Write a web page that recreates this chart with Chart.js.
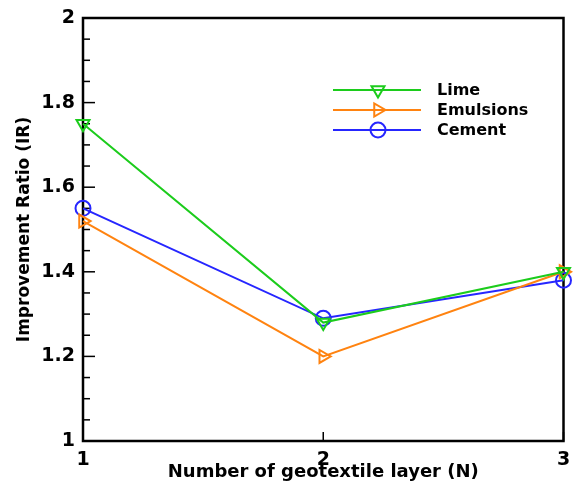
<!DOCTYPE html>
<html>
<head>
<meta charset="utf-8">
<script src="https://cdn.jsdelivr.net/npm/chart.js@4.4.1/dist/chart.umd.min.js"></script>
<style>
  html, body { margin: 0; padding: 0; background: #fff; }
  canvas { display: block; }
</style>
</head>
<body>
<canvas id="myChart" width="573" height="484"></canvas>
<script>
// geotextile layers on x, improvement ratio per additive
var camadas = [1, 2, 3];
var lime = [1.75, 1.28, 1.40];
var emulsions = [1.52, 1.20, 1.40];
var cement = [1.55, 1.29, 1.38];
var xTickLabels = ['1', '2', '3'];
var yTickLabels = ['1', '1.2', '1.4', '1.6', '1.8', '2'];

var verde = '#1ccc1c';
var laranja = '#ff8310';
var azul = '#2626ff';

Chart.defaults.font.family = 'DejaVu Sans';
Chart.defaults.font.weight = 'bold';
Chart.defaults.color = '#000';

function pontos(valores) {
  var lista = [];
  for (var i = 0; i < camadas.length; i++) {
    lista.push({ x: camadas[i], y: valores[i] });
  }
  return lista;
}

function serie(nome, valores, cor, estilo, rotacao) {
  return {
    label: nome,
    data: pontos(valores),
    borderColor: cor,
    borderWidth: 2,
    backgroundColor: cor,
    pointStyle: estilo,
    rotation: rotacao,
    pointRadius: 7.5,
    pointBorderWidth: 2,
    pointBorderColor: cor,
    pointBackgroundColor: 'rgba(0,0,0,0)',
    tension: 0,
    clip: false
  };
}

// moldura e ticks para dentro
const molduraPlugin = {
  id: 'moldura',
  beforeDatasetsDraw(chart) {
    const ctx = chart.ctx;
    const area = chart.chartArea;
    const y = chart.scales.y;
    const x = chart.scales.x;
    ctx.save();
    ctx.strokeStyle = '#000';
    ctx.lineWidth = 1.5;
    y.ticks.forEach(function (t) {
      const py = y.getPixelForValue(t.value);
      const tam = t.label !== '' ? 12 : 7;
      ctx.beginPath();
      ctx.moveTo(area.left, py);
      ctx.lineTo(area.left + tam, py);
      ctx.stroke();
    });
    x.ticks.forEach(function (t) {
      const px = x.getPixelForValue(t.value);
      ctx.beginPath();
      ctx.moveTo(px, area.bottom);
      ctx.lineTo(px, area.bottom - 9);
      ctx.stroke();
    });
    ctx.lineWidth = 2.5;
    ctx.strokeRect(area.left, area.top, area.right - area.left, area.bottom - area.top);
    ctx.restore();
  }
};

const legendaPlugin = {
  id: 'legenda',
  afterDatasetsDraw(chart) {
    const ctx = chart.ctx;
    const area = chart.chartArea;
    const x0 = area.left + 250;
    const y0 = area.top + 72;
    ctx.save();
    chart.data.datasets.forEach(function (ds, i) {
      const yy = y0 + i * 20;
      ctx.strokeStyle = ds.borderColor;
      ctx.lineWidth = 2;
      ctx.beginPath();
      ctx.moveTo(x0, yy);
      ctx.lineTo(x0 + 88, yy);
      ctx.stroke();
      ctx.fillStyle = 'rgba(0,0,0,0)';
      Chart.helpers.drawPoint(ctx, {
        pointStyle: ds.pointStyle,
        radius: 7.5,
        rotation: ds.rotation,
        borderWidth: 2
      }, x0 + 45, yy);
      ctx.fillStyle = '#000';
      ctx.font = 'bold 16px "DejaVu Sans"';
      ctx.textAlign = 'left';
      ctx.textBaseline = 'middle';
      ctx.fillText(ds.label, x0 + 104, yy + 1);
    });
    ctx.restore();
  }
};

const config = {
  type: 'line',
  data: {
    datasets: [
      serie('Lime', lime, verde, 'triangle', 180),
      serie('Emulsions', emulsions, laranja, 'triangle', 90),
      serie('Cement', cement, azul, 'circle', 0)
    ]
  },
  options: {
    responsive: false,
    animation: false,
    devicePixelRatio: 1,
    layout: { padding: { top: 18, right: 6, left: 0, bottom: 0 } },
    plugins: {
      legend: { display: false },
      tooltip: { enabled: false }
    },
    scales: {
      x: {
        type: 'linear',
        min: 1,
        max: 3,
        grid: { display: false, drawTicks: false },
        border: { display: false },
        ticks: {
          stepSize: 1,
          padding: 8,
          font: { size: 19, weight: 'bold' },
          callback: function (v) {
            var i = camadas.indexOf(v);
            return i >= 0 ? xTickLabels[i] : '';
          }
        },
        title: {
          display: true,
          text: 'Number of geotextile layer (N)',
          font: { size: 18, weight: 'bold' },
          padding: { top: 0, bottom: 1 }
        },
        afterFit: function (s) {
          s.height = 43;
          s.paddingLeft = 0;
          s.paddingRight = 0;
        }
      },
      y: {
        min: 1,
        max: 2,
        grid: { display: false, drawTicks: false },
        border: { display: false },
        ticks: {
          stepSize: 0.05,
          autoSkip: false,
          padding: 8,
          font: { size: 19, weight: 'bold' },
          callback: function (v) {
            var k = v * 5;
            if (Math.abs(k - Math.round(k)) < 1e-6) {
              return yTickLabels[Math.round(k) - 5];
            }
            return '';
          }
        },
        title: {
          display: true,
          text: 'Improvement Ratio (IR)',
          font: { size: 17, weight: 'bold' },
          padding: { top: 14, bottom: 0 }
        },
        afterFit: function (s) {
          s.width = 83;
          s.paddingTop = 0;
          s.paddingBottom = 0;
        }
      }
    }
  },
  plugins: [molduraPlugin, legendaPlugin]
};

const myChart = new Chart(document.getElementById('myChart'), config);
</script>
</body>
</html>
